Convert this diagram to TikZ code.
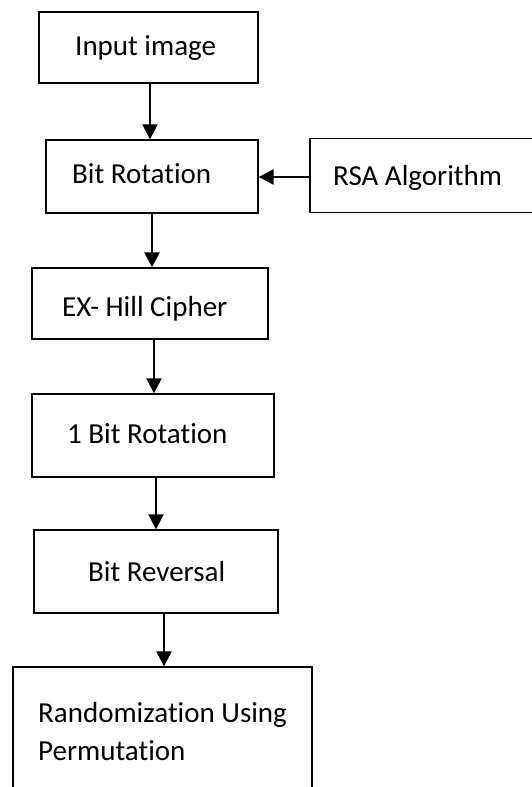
\documentclass[tikz,border=0pt]{standalone}
\usepackage{fontspec}
\setmainfont[Ligatures={NoCommon}]{Carlito}
\usetikzlibrary{arrows.meta}
\tikzset{
  box/.style={draw=black, line width=1.3pt, fill=white, inner sep=0pt},
  txt/.style={inner sep=0pt, font=\fontsize{29}{35}\selectfont, anchor=west},
  arr/.style={draw=black, line width=2.2pt, -{Triangle[length=15pt,width=15pt]}}
}
\begin{document}
\begin{tikzpicture}[x=1pt,y=-1pt]
\useasboundingbox (0,0) rectangle (532,787);
\clip (0,0) rectangle (532,787);
% boxes
\node[box, minimum width=219pt, minimum height=71pt] (in) at (148.5,47.5) {};
\node[box, minimum width=212pt, minimum height=73pt] (br) at (152,176.5) {};
\node[box, minimum width=240pt, minimum height=74pt] (rsa) at (430,175.5) {};
\node[box, minimum width=236pt, minimum height=71pt] (ex) at (150,303.5) {};
\node[box, minimum width=242pt, minimum height=83pt] (ob) at (153,435.5) {};
\node[box, minimum width=244pt, minimum height=83pt] (rev) at (156,571.5) {};
\node[box, minimum width=299pt, minimum height=160pt] (rnd) at (162.5,747) {};
% texts
\node[txt] (inT) at (75,48) {Input image};
\node[txt] (brT) at (72,174) {Bit Rotation};
\node[txt] (rsaT) at (333,178) {RSA Algorithm};
\node[txt] (exT) at (62,309) {EX- Hill Cipher};
\node[txt] (obT) at (67,434) {1 Bit Rotation};
\node[txt] (revT) at (88,572) {Bit Reversal};
\node[txt] (rndT1) at (38,715) {Randomization Using};
\node[txt] (rndT2) at (38,751) {Permutation};
% connectors
\draw[arr] ([xshift=1.5pt]in.south) -- ([xshift=-2pt]br.north);
\draw[arr] (rsa.west |- 0,177) -- (br.east |- 0,177);
\draw[arr] ([xshift=0pt]br.south) -- ([xshift=2pt]ex.north);
\draw[arr] ([xshift=4pt]ex.south) -- ([xshift=1pt]ob.north);
\draw[arr] ([xshift=3pt]ob.south) -- ([xshift=0pt]rev.north);
\draw[arr] ([xshift=8pt]rev.south) -- ([xshift=1.5pt]rnd.north);
\end{tikzpicture}
\end{document}
